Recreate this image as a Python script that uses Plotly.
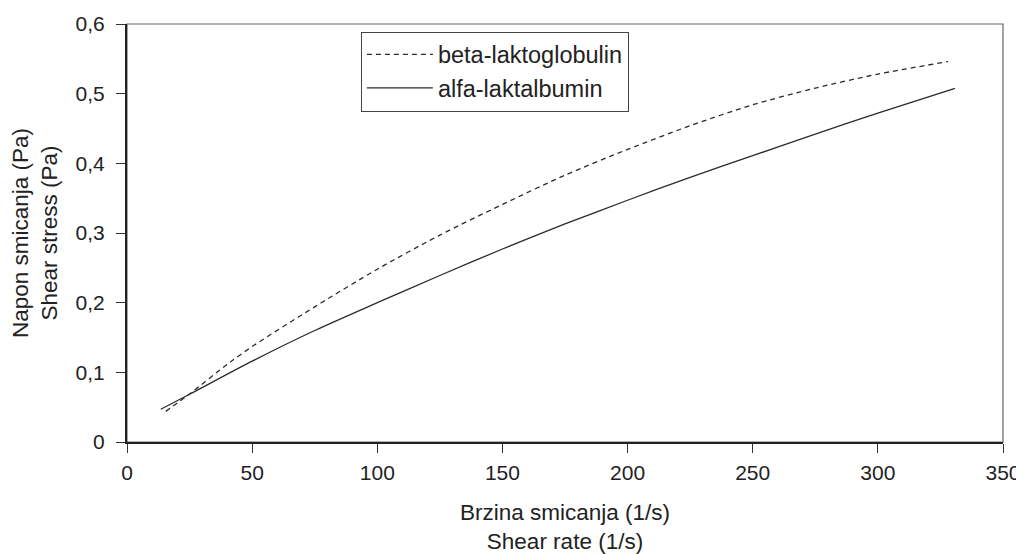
import plotly.graph_objects as go

# Data
beta_x = [15.5, 25, 40.8, 50, 75, 100, 125, 150, 175, 200, 225, 250, 275, 300, 328]
beta_y = [0.044, 0.069, 0.1135, 0.137, 0.194, 0.248, 0.297, 0.341, 0.383, 0.420, 0.454, 0.484, 0.508, 0.528, 0.546]

alfa_x = [13.5, 25, 50, 75, 100, 125, 150, 175, 200, 225, 250, 275, 300, 330.8]
alfa_y = [0.047, 0.0685, 0.116, 0.160, 0.200, 0.239, 0.277, 0.313, 0.347, 0.380, 0.411, 0.442, 0.472, 0.5075]

x_ticks = [0, 50, 100, 150, 200, 250, 300, 350]
y_ticks = [0, 0.1, 0.2, 0.3, 0.4, 0.5, 0.6]
y_ticktext = ["0", "0,1", "0,2", "0,3", "0,4", "0,5", "0,6"]

FONT = "Liberation Sans, Arial, sans-serif"
INK = "#2b2b2b"
TICK_FS = 21
TITLE_FS = 22.5
LEG_FS = 23.5

fig = go.Figure()
fig.add_trace(go.Scatter(
    x=beta_x, y=beta_y, mode="lines", name="beta-laktoglobulin",
    line=dict(color=INK, width=1.3, dash="5px,4px", shape="spline", smoothing=0.8),
))
fig.add_trace(go.Scatter(
    x=alfa_x, y=alfa_y, mode="lines", name="alfa-laktalbumin",
    line=dict(color=INK, width=1.3, shape="spline", smoothing=0.8),
))

# light frame on top/right
fig.add_shape(type="rect", xref="x domain", yref="y domain", x0=0, x1=1, y0=0, y1=1,
              line=dict(color="#666666", width=1.2), layer="below")

fig.update_layout(
    width=1016, height=546,
    margin=dict(l=119, r=21, t=15.5, b=111.5),
    paper_bgcolor="white", plot_bgcolor="white",
    font=dict(family=FONT, size=TICK_FS, color="#222222"),
    showlegend=True,
    legend=dict(
        x=0.267, y=0.982, xanchor="left", yanchor="top",
        bgcolor="white", bordercolor="#444444", borderwidth=1,
        font=dict(family=FONT, size=LEG_FS, color="#222222"),
        tracegroupgap=0, itemwidth=66,
    ),
    xaxis=dict(
        range=[0, 350], tickvals=x_ticks, ticktext=[str(v) for v in x_ticks],
        showgrid=False, zeroline=False, showline=True, linecolor="#222222", linewidth=2.2,
        ticks="outside", ticklen=9, tickwidth=1.2, tickcolor="#333333",
        tickfont=dict(size=TICK_FS), automargin=False, ticklabelstandoff=2,
        title=dict(text="Brzina smicanja (1/s)<br>Shear rate (1/s)", font=dict(size=TITLE_FS), standoff=22),
    ),
    yaxis=dict(
        range=[0, 0.6], tickvals=y_ticks, ticktext=y_ticktext,
        showgrid=False, zeroline=False, showline=True, linecolor="#222222", linewidth=2.2,
        ticks="outside", ticklen=9, tickwidth=1.2, tickcolor="#333333",
        tickfont=dict(size=TICK_FS), automargin=False, ticklabelstandoff=7,
        title=dict(text="Napon smicanja (Pa)<br>Shear stress (Pa)", font=dict(size=TITLE_FS), standoff=12),
    ),
)

fig.write_html("out.html")
